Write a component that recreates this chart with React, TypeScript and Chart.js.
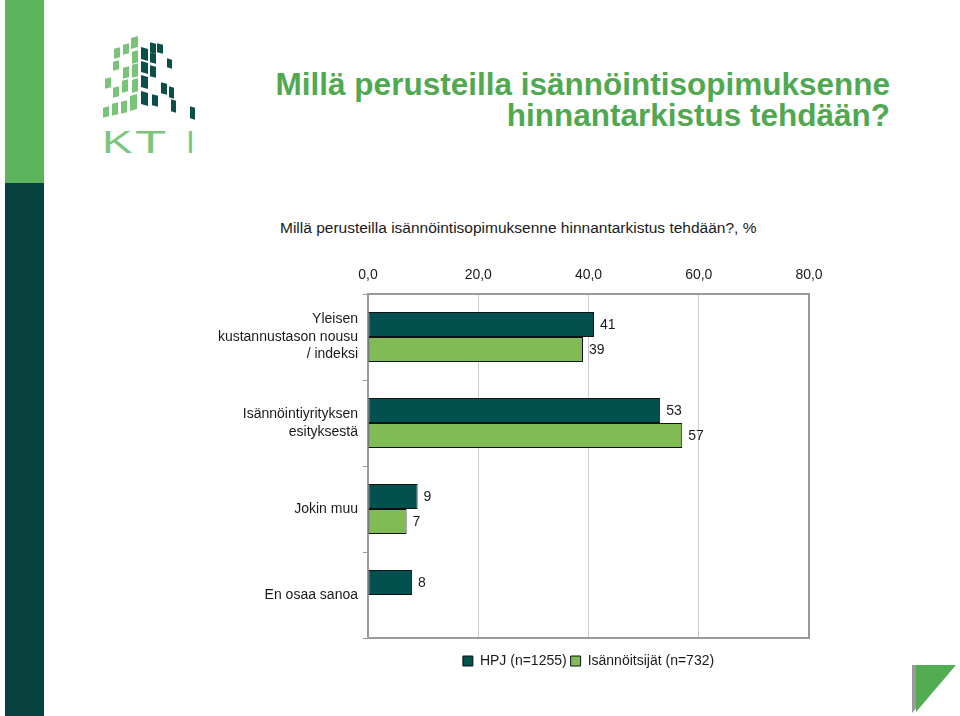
import React, { useEffect, useRef } from "react";
import { Chart, registerables } from "chart.js";

Chart.register(...registerables);

// ---- data ----
const categories: (string | string[])[] = [
  ["Yleisen", "kustannustason nousu", "/ indeksi"],
  ["Isännöintiyrityksen", "esityksestä"],
  "Jokin muu",
  "En osaa sanoa",
];
const seriesNames = ["HPJ (n=1255)", "Isännöitsijät (n=732)"];
const hpjValues: (number | null)[] = [41, 53, 9, 8];
const isannoitsijatValues: (number | null)[] = [39, 57, 7, null];
const xMin = 0;
const xMax = 80;
const xStep = 20;

const headingLines = ["Millä perusteilla isännöintisopimuksenne", "hinnantarkistus tehdään?"];
const chartTitle = "Millä perusteilla isännöintisopimuksenne hinnantarkistus tehdään?, %";

const FONT = "'Liberation Sans', Arial, Helvetica, sans-serif";

// logo squares: [x, y, w, h]
const logoLight: number[][] = [
  [114, 48, 6, 10], [123, 44, 6, 10], [131, 37, 7, 11],
  [113, 61, 6, 9], [132, 51, 6, 12],
  [123, 67, 6, 11], [132, 64, 6, 13],
  [105, 78, 6, 10], [122, 80, 6, 12], [113, 87, 6, 10], [132, 79, 6, 13],
  [103, 107, 6, 10], [112, 103, 6, 12], [121, 101, 6, 12], [130, 95, 7, 15],
];
const logoDark: number[][] = [
  [141, 48, 7, 12], [150, 43, 6, 10], [157, 44, 6, 9],
  [141, 62, 7, 11], [150, 53, 6, 10], [167, 59, 5, 9],
  [141, 76, 7, 12], [150, 66, 6, 11],
  [141, 92, 7, 13], [152, 95, 6, 11], [161, 83, 6, 11], [169, 87, 5, 11], [171, 100, 5, 12], [190, 107, 5, 12],
];

const valueLabelPlugin = {
  id: "valueLabels",
  afterDatasetsDraw(chart: any) {
    const ctx = chart.ctx;
    ctx.save();
    ctx.font = `14px ${FONT}`;
    ctx.fillStyle = "#1a1a1a";
    ctx.textAlign = "left";
    ctx.textBaseline = "middle";
    chart.data.datasets.forEach((ds: any, di: number) => {
      const meta = chart.getDatasetMeta(di);
      meta.data.forEach((el: any, i: number) => {
        const v = ds.data[i];
        if (v === null || v === undefined) return;
        ctx.fillText(String(v), el.x + 6, el.y + 1);
      });
    });
    ctx.restore();
  },
};

const framePlugin = {
  id: "frame",
  beforeDatasetsDraw(chart: any) {
    const { ctx, chartArea } = chart;
    ctx.save();
    ctx.strokeStyle = "#9a9a9a";
    ctx.lineWidth = 2;
    ctx.strokeRect(chartArea.left, chartArea.top, chartArea.right - chartArea.left, chartArea.bottom - chartArea.top);
    ctx.restore();
  },
};

function BarChart() {
  const ref = useRef<HTMLCanvasElement | null>(null);
  useEffect(() => {
    if (!ref.current) return;
    const chart = new Chart(ref.current, {
      type: "bar",
      data: {
        labels: categories as any,
        datasets: [
          {
            label: seriesNames[0],
            data: hpjValues,
            backgroundColor: "#03514f",
            borderColor: "#111111",
            borderWidth: 1,
            borderSkipped: false,
            barPercentage: 1,
            categoryPercentage: 0.58,
          },
          {
            label: seriesNames[1],
            data: isannoitsijatValues,
            backgroundColor: "#80bb55",
            borderColor: "#111111",
            borderWidth: 1,
            borderSkipped: false,
            barPercentage: 1,
            categoryPercentage: 0.58,
          },
        ],
      },
      options: {
        indexAxis: "y",
        responsive: false,
        animation: false,
        devicePixelRatio: 1,
        layout: { padding: { top: 254, left: 0, right: 151, bottom: 38 } },
        scales: {
          x: {
            type: "linear",
            position: "top",
            min: xMin,
            max: xMax,
            ticks: {
              stepSize: xStep,
              padding: 10,
              color: "#1a1a1a",
              font: { size: 14, family: FONT },
              callback: (v: any) => Number(v).toFixed(1).replace(".", ","),
            },
            grid: {
              drawTicks: false,
              color: (c: any) =>
                c.tick && (c.tick.value === xMin || c.tick.value === xMax) ? "rgba(0,0,0,0)" : "#cccccc",
              lineWidth: 1,
            },
            border: { display: false },
            afterFit: (s: any) => {
              s.height = 40;
            },
          },
          x2: {
            type: "linear",
            position: "bottom",
            min: xMin,
            max: xMax,
            ticks: { display: false },
            grid: { display: false },
            border: { display: false },
            afterFit: (s: any) => {
              s.height = 12;
            },
          },
          y: {
            position: "left",
            ticks: {
              padding: 5,
              color: "#1a1a1a",
              font: { size: 14, family: FONT, lineHeight: 1.25 },
            },
            grid: {
              drawOnChartArea: false,
              drawTicks: true,
              tickLength: 5,
              color: "#9a9a9a",
            },
            border: { display: false },
            afterFit: (s: any) => {
              s.width = 368;
            },
          },
        },
        plugins: {
          title: { display: false },
          tooltip: { enabled: false },
          legend: {
            position: "bottom",
            fullSize: false,
            labels: {
              boxWidth: 10,
              boxHeight: 10,
              padding: 4,
              color: "#1a1a1a",
              font: { size: 14, family: FONT },
            },
          },
        },
      } as any,
      plugins: [valueLabelPlugin, framePlugin],
    });
    return () => chart.destroy();
  }, []);
  return (
    <canvas
      ref={ref}
      width={960}
      height={716}
      style={{ position: "absolute", left: 0, top: 0, width: 960, height: 716 }}
    />
  );
}

export default function App() {
  return (
    <div
      style={{
        position: "absolute",
        left: 0,
        top: 0,
        width: 960,
        height: 716,
        background: "#ffffff",
        overflow: "hidden",
        fontFamily: FONT,
      }}
    >
      {/* sidebar */}
      <div style={{ position: "absolute", left: 5, top: 0, width: 39, height: 183, background: "#5cb45c" }} />
      <div style={{ position: "absolute", left: 5, top: 183, width: 39, height: 533, background: "#07413e" }} />

      {/* logo */}
      {logoLight.map((s, i) => (
        <div
          key={"l" + i}
          style={{
            position: "absolute",
            left: s[0],
            top: s[1],
            width: s[2],
            height: s[3],
            background: "#78c378",
            transform: "skewY(-16deg)",
          }}
        />
      ))}
      {logoDark.map((s, i) => (
        <div
          key={"d" + i}
          style={{
            position: "absolute",
            left: s[0],
            top: s[1],
            width: s[2],
            height: s[3],
            background: "#0b4f4b",
            transform: "skewY(16deg)",
          }}
        />
      ))}
      {["K", "T", "I"].map((ch, i) => (
        <span
          key={ch}
          style={{
            position: "absolute",
            left: [102, 135, 186][i],
            top: 126,
            fontFamily: FONT,
            fontWeight: 400,
            fontSize: 32,
            lineHeight: "32px",
            color: "#7cc67c",
            transform: `scaleX(${[1.43, 1.6, 1][i]})`,
            transformOrigin: "left top",
          }}
        >
          {ch}
        </span>
      ))}

      {/* heading */}
      <div
        style={{
          position: "absolute",
          right: 70,
          top: 69,
          textAlign: "right",
          fontSize: 31.5,
          lineHeight: "31px",
          fontWeight: "bold",
          color: "#50a850",
          whiteSpace: "nowrap",
        }}
      >
        {headingLines.map((l) => (
          <div key={l}>{l}</div>
        ))}
      </div>

      {/* chart title */}
      <div
        style={{
          position: "absolute",
          left: 280,
          top: 219,
          fontSize: 15.5,
          lineHeight: "18px",
          color: "#1a1a1a",
          whiteSpace: "nowrap",
        }}
      >
        {chartTitle}
      </div>

      <BarChart />

      {/* corner decoration */}
      <svg style={{ position: "absolute", left: 0, top: 0 }} width={960} height={716}>
        <polygon points="912,665 952,665 912,713" fill="#9a9a9a" />
        <polygon points="916,665 956,665 916,712" fill="#52ad52" />
      </svg>
    </div>
  );
}
